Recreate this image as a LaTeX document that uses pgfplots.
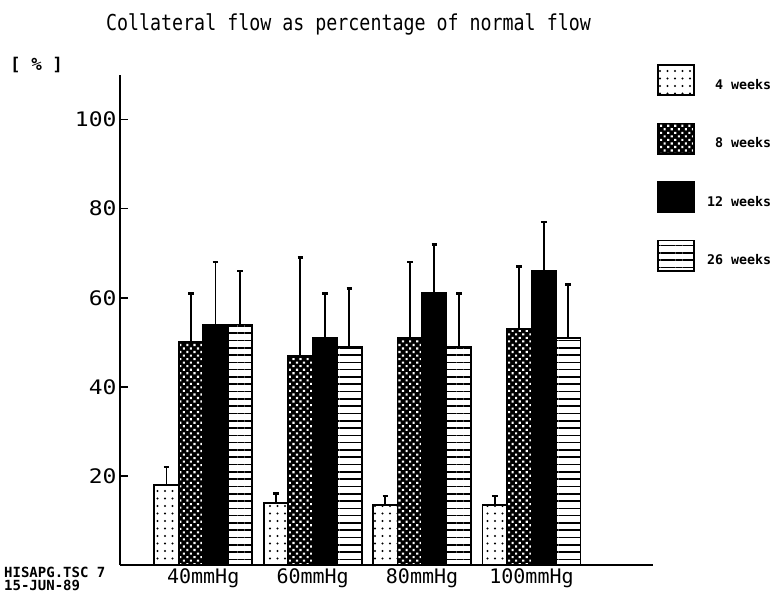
\documentclass[border=0pt]{standalone}
\usepackage{graphicx}
\usepackage{pgfplots}
\usepackage{pgfplotstable}
\pgfplotsset{compat=1.18}
\usepackage{fontspec}
\setmainfont{DejaVu Sans Mono}
\usetikzlibrary{patterns.meta}

\pgfplotstableread{
x y e
0 18 4
1 14 2
2 13.5 2
3 13.5 2
}\wfour
\pgfplotstableread{
x y e
0 50 11
1 47 22
2 51 17
3 53 14
}\weight
\pgfplotstableread{
x y e
0 54 14
1 51 10
2 61 11
3 66 11
}\wtwelve
\pgfplotstableread{
x y e
0 54 12
1 49 13
2 49 12
3 51 12
}\wtwentysix

\begin{document}
\begin{tikzpicture}
\path[use as bounding box] (0,0) rectangle (782pt,-596pt);
\begin{axis}[
  at={(120pt,-565pt)}, anchor=south west,
  scale only axis, width=533pt, height=490pt,
  xmin=-0.76, xmax=4.11, ymin=0, ymax=110,
  axis x line=bottom, axis y line=left,
  axis line style={-, line width=1.8pt, black},
  ybar=0pt, bar width=24.5pt,
  xtick={0,1,2,3}, xticklabels={40mmHg,60mmHg,80mmHg,100mmHg},
  x tick style={draw=none},
  ytick={20,40,60,80,100},
  y tick style={line width=1.6pt, black},
  tick align=inside, major tick length=8pt,
  /pgf/number format/assume math mode=true,
  ticklabel style={font=\fontsize{20}{22}\selectfont},
  yticklabel={\scalebox{1.15}[1]{\pgfmathprintnumber{\tick}}},
  error bars/y dir=plus, error bars/y explicit,
  error bars/error bar style={line width=1.8pt, black},
  error bars/error mark options={rotate=90, line width=2.8pt, mark size=2.8pt, black},
  legend image code/.code={\draw[#1] (0pt,-10pt) rectangle (36pt,20pt);},
  legend cell align=right,
  legend style={at={(rel axis cs:1,1)}, anchor=north west, xshift=4pt, yshift=11pt,
    draw=none, fill=none, inner sep=0pt, row sep=26.7pt, column sep=12pt,
    font=\bfseries\fontsize{13.3}{14}\selectfont,
    nodes={inner sep=0pt}},
]
\addplot[draw=black, line width=1.8pt, pattern={Dots[distance=7.5pt, radius=1.2pt]}, pattern color=black]
  table[x=x, y=y, y error=e] {\wfour};
\addlegendentry{4 weeks}
\addplot[draw=black, line width=1.8pt, fill=black, postaction={pattern={Dots[distance=5pt, radius=1.5pt, angle=45]}, pattern color=white}]
  table[x=x, y=y, y error=e] {\weight};
\addlegendentry{8 weeks}
\addplot[draw=black, line width=1.8pt, fill=black]
  table[x=x, y=y, y error=e] {\wtwelve};
\addlegendentry{12 weeks}
\addplot[draw=black, line width=1.8pt, pattern={Lines[distance=7.3pt, line width=1.6pt]}, pattern color=black]
  table[x=x, y=y, y error=e] {\wtwentysix};
\addlegendentry{26 weeks}
\end{axis}
\node[anchor=base, inner sep=0pt] at (348.5pt,-31pt) {\fontsize{18.3}{20}\selectfont\scalebox{1}[1.2]{Collateral flow as percentage of normal flow}};
\node[anchor=base west, inner sep=0pt] at (10pt,-71pt) {\bfseries\fontsize{17.5}{18}\selectfont [ \% ]};
\node[anchor=base west, inner sep=0pt] at (4pt,-577pt) {\bfseries\fontsize{14}{15}\selectfont HISAPG.TSC 7};
\node[anchor=base west, inner sep=0pt] at (4pt,-590pt) {\bfseries\fontsize{14}{15}\selectfont 15-JUN-89};
\end{tikzpicture}
\end{document}
